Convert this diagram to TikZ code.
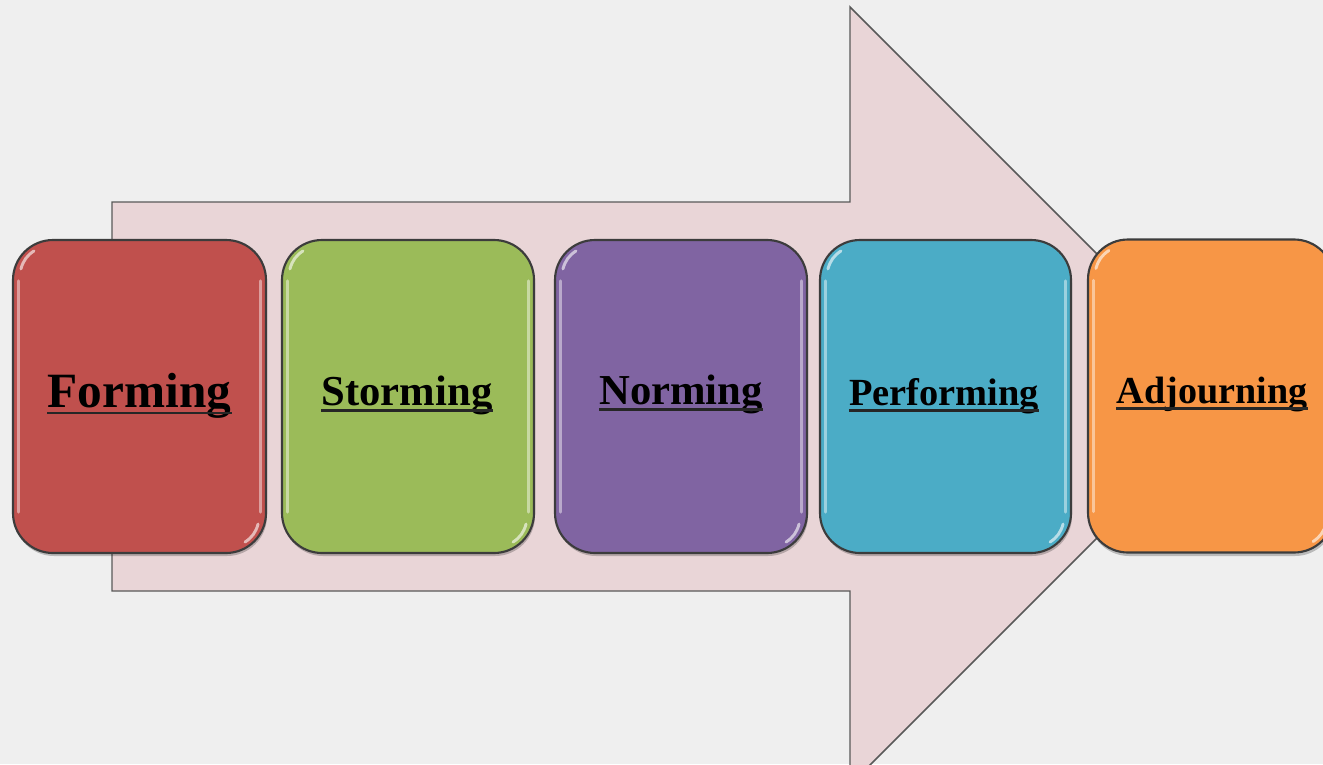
\documentclass[tikz,border=0pt]{standalone}
\usepackage{fontspec}
\setmainfont{Liberation Serif}
\usetikzlibrary{calc}
\definecolor{pagebg}{HTML}{EFEFEF}
\definecolor{arrowfill}{HTML}{E9D5D7}
\definecolor{edge}{HTML}{3C3C3C}
\definecolor{cForming}{HTML}{C0504D}
\definecolor{cStorming}{HTML}{9BBB59}
\definecolor{cNorming}{HTML}{8064A2}
\definecolor{cPerforming}{HTML}{4BACC6}
\definecolor{cAdjourning}{HTML}{F79646}
\tikzset{
  stagebox/.style={draw=edge, line width=1.6pt, rounded corners=30pt,
    minimum width=189pt, minimum height=234.75pt, inner sep=0pt},
  shade box/.style={fill=black, opacity=0.22, rounded corners=30pt},
  label/.style={inner sep=0pt, anchor=base, font=\bfseries},
  uline/.style={line width=1.9pt, black!85},
  gloss/.style={white, opacity=0.45, line width=2.2pt, line cap=round},
  bigarrow/.style={fill=arrowfill, draw=edge!85, line width=1.1pt}
}
\begin{document}
\begin{tikzpicture}[x=0.75pt, y=-0.75pt]
  \useasboundingbox (0,0) rectangle (1323,764);
  \clip (0,0) rectangle (1323,764);
  \fill[pagebg] (0,0) rectangle (1323,764);

  % block arrow behind the stages
  \draw[bigarrow] (112,202) -- (850,202) -- (850,7) -- (1239,396)
    -- (850,785) -- (850,591) -- (112,591) -- cycle;

  % soft drop shadows
  \foreach \cx/\w in {139.5/253, 408/252, 681/252, 945.5/251, 1211/246}{
    \fill[shade box] (\cx-\w/2+1, 243) rectangle (\cx+\w/2+1, 556);
  }

  % the five stages
  \node[stagebox, fill=cForming,    minimum width=189.75pt] (forming)    at (139.5,396.5) {};
  \node[stagebox, fill=cStorming]                           (storming)   at (408,396.5) {};
  \node[stagebox, fill=cNorming]                            (norming)    at (681,396.5) {};
  \node[stagebox, fill=cPerforming, minimum width=188.25pt] (performing) at (945.5,396.5) {};
  \node[stagebox, fill=cAdjourning, minimum width=184.5pt]  (adjourning) at (1211,396) {};

  % glossy rims
  \foreach \b in {forming, storming, norming, performing, adjourning}{
    \draw[gloss] ($(\b.north west)+(7,42)$) -- ($(\b.south west)+(7,-42)$);
    \draw[gloss] ($(\b.north east)+(-7,42)$) -- ($(\b.south east)+(-7,-42)$);
    \draw[gloss, opacity=0.6] ($(\b.north west)+(9,30)$) to[bend left=20] ($(\b.north west)+(22,12)$);
    \draw[gloss, opacity=0.6] ($(\b.south east)+(-9,-30)$) to[bend left=20] ($(\b.south east)+(-22,-12)$);
  }

  % stage names
  \node[label, font=\bfseries\fontsize{37pt}{40pt}\selectfont] (tForming) at (139.5,407) {Forming};
  \node[label, font=\bfseries\fontsize{32pt}{35pt}\selectfont] (tStorming) at (407,405) {Storming};
  \node[label, font=\bfseries\fontsize{32pt}{35pt}\selectfont] (tNorming) at (681,404) {Norming};
  \node[label, font=\bfseries\fontsize{28.8pt}{32pt}\selectfont] (tPerforming) at (944,405) {Performing};
  \node[label, font=\bfseries\fontsize{28.6pt}{32pt}\selectfont] (tAdjourning) at (1212,403) {Adjourning};

  % underlines
  \draw[uline, line width=2.2pt] ($(tForming.base west)+(0,6)$) -- ($(tForming.base east)+(0,6)$);
  \foreach \t in {tStorming, tNorming, tPerforming, tAdjourning}{
    \draw[uline] ($(\t.base west)+(0,5.5)$) -- ($(\t.base east)+(0,5.5)$);
  }
\end{tikzpicture}
\end{document}
